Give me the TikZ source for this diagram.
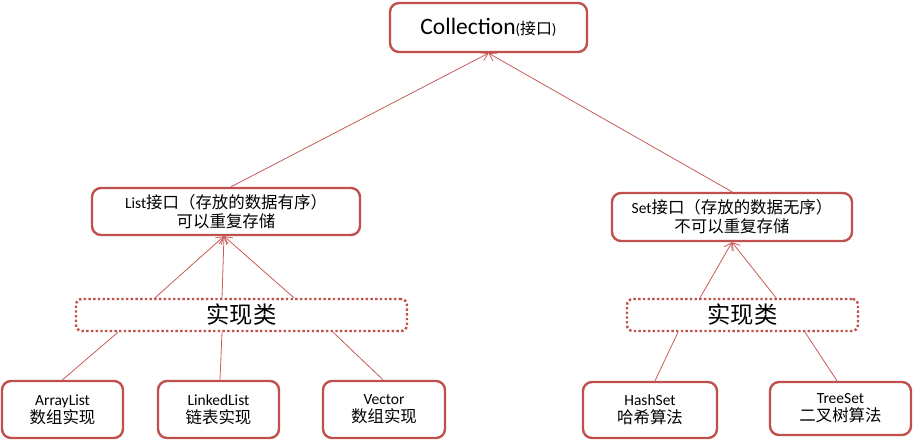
\documentclass[tikz,border=0pt]{standalone}
\usepackage{fontspec}
\setmainfont{Carlito}
\newfontfamily\cjk[Scale=1.06]{Noto Sans CJK SC}
\usetikzlibrary{arrows.meta}
\definecolor{bord}{RGB}{192,80,77}
\definecolor{lin}{RGB}{200,90,88}
\tikzset{
  box/.style={draw=bord, line width=2.4pt, rounded corners=9pt, fill=white, align=center, inner sep=0pt},
  dotbox/.style={draw=bord, line width=2.4pt, dash pattern=on 2.4pt off 2.3pt, rounded corners=6pt, fill=white, align=center, inner sep=0pt},
  arr/.style={draw=lin, line width=0.8pt, -{Straight Barb[length=7pt,width=9pt,line width=0.8pt]}},
  ln/.style={draw=lin, line width=0.8pt},
}
\begin{document}
\begin{tikzpicture}[x=1pt,y=-1pt]
\useasboundingbox (0,0) rectangle (914,441);
\node[box, minimum width=197pt, minimum height=49pt] (coll) at (488.5,27.5)
  {\fontsize{23.5}{26}\selectfont Collection{\fontsize{15}{18}\selectfont(\cjk 接口\normalfont)}};
\node[box, minimum width=268pt, minimum height=47pt, font=\fontsize{15.5}{19}\selectfont] (list) at (226,211.5)
  {List{\cjk 接口（存放的数据有序）}\\{\cjk 可以重复存储}};
\node[box, minimum width=240pt, minimum height=48pt, font=\fontsize{15.5}{19}\selectfont] (set) at (732,217)
  {Set{\cjk 接口（存放的数据无序）}\\{\cjk 不可以重复存储}};
\node[dotbox, minimum width=331pt, minimum height=32pt] (impL) at (241.5,315)
  {\fontsize{22}{24}\selectfont\cjk 实现类};
\node[dotbox, minimum width=231pt, minimum height=32pt] (impR) at (742.5,315)
  {\fontsize{22}{24}\selectfont\cjk 实现类};
\node[box, minimum width=121pt, minimum height=57pt, font=\fontsize{15.5}{18}\selectfont] (al) at (62.5,409.5)
  {ArrayList\\{\cjk 数组实现}};
\node[box, minimum width=121pt, minimum height=57pt, font=\fontsize{15.5}{18}\selectfont] (ll) at (218.5,409.5)
  {LinkedList\\{\cjk 链表实现}};
\node[box, minimum width=122pt, minimum height=57pt, font=\fontsize{15.5}{18}\selectfont] (vec) at (384,409.5)
  {Vector\\{\cjk 数组实现}};
\node[box, minimum width=134pt, minimum height=56pt, font=\fontsize{15.5}{18}\selectfont] (hs) at (650,410)
  {HashSet\\{\cjk 哈希算法}};
\node[box, minimum width=141pt, minimum height=53pt, font=\fontsize{15.5}{18}\selectfont] (ts) at (840.5,408.5)
  {TreeSet\\{\cjk 二叉树算法}};
% connectors
\draw[arr] ([xshift=5pt]list.north) -- (coll.south);
\draw[arr] (set.north) -- (coll.south);
\draw[arr] ([xshift=-86.5pt]impL.north) -- ([xshift=-2pt]list.south);
\draw[arr] ([xshift=-19.5pt]impL.north) -- ([xshift=-2pt]list.south);
\draw[arr] ([xshift=52.5pt]impL.north) -- ([xshift=-2pt]list.south);
\draw[arr] ([xshift=-42.5pt]impR.north) -- (set.south);
\draw[arr] ([xshift=33.5pt]impR.north) -- (set.south);
\draw[ln] (al.north) -- ([xshift=-123.5pt]impL.south);
\draw[ln] ([xshift=1.5pt]ll.north) -- ([xshift=-19.5pt]impL.south);
\draw[ln] ([xshift=-1pt]vec.north) -- ([xshift=91.5pt]impL.south);
\draw[ln] ([xshift=5pt]hs.north) -- ([xshift=-64.5pt]impR.south);
\draw[ln] ([xshift=-3.5pt]ts.north) -- ([xshift=62.5pt]impR.south);
\end{tikzpicture}
\end{document}
